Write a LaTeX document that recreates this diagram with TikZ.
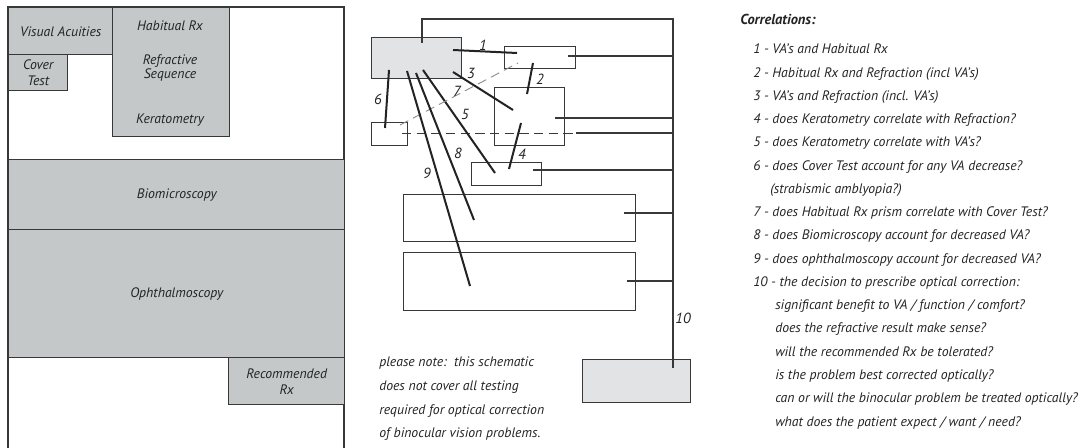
\documentclass[tikz,border=0pt]{standalone}
\usepackage{fontspec}
\setmainfont{PT Sans}
\usepackage{tikz}
\usetikzlibrary{calc}
\definecolor{Ink}{HTML}{232323}
\definecolor{Edge}{HTML}{383838}
\definecolor{Shade}{HTML}{C5C8C9}
\definecolor{ShadeSoft}{HTML}{E2E3E4}
\definecolor{Dash}{HTML}{8C8C8C}
\tikzset{
  txt/.style={font=\itshape\fontsize{10.3}{12}\selectfont,text=Ink,inner sep=0pt},
  sz/.style 2 args={minimum width=#1*0.75pt,minimum height=#2*0.75pt},
  plan/.style={draw=Edge,line width=1.1pt,fill=Shade,anchor=north west,inner sep=0pt,align=center,txt},
  cbox/.style={draw=Edge,line width=1.1pt,fill=white,anchor=north west,inner sep=0pt},
  cboxgray/.style={cbox,fill=ShadeSoft},
  corr/.style={line width=1.5pt,draw=Ink},
  corrdash/.style={line width=0.7pt,draw=Dash,dash pattern=on 7pt off 4pt},
  feed/.style={line width=1.1pt,draw=Edge},
  num/.style={txt,font=\itshape\fontsize{11}{13}\selectfont},
  listtxt/.style={txt,anchor=base west}
}
\begin{document}
\begin{tikzpicture}[x=0.75pt,y=-0.75pt]
\useasboundingbox (0,0) rectangle (1087,448);
% record sheet layout
\draw[feed] (8,448) -- (8,7) -- (344,7) -- (344,448);
\node[plan,sz={104}{47}] (lva) at (8,7) {Visual Acuities};
\node[plan,sz={117}{129}] (lhrx) at (112,7) {};
\node[plan,sz={59}{36}] (lct) at (8,54) {Cover\\Test};
\node[plan,sz={336}{70}] (lbio) at (8,159) {Biomicroscopy};
\node[plan,sz={336}{128}] (loph) at (8,229) {Ophthalmoscopy};
\node[plan,sz={116}{47}] (lrec) at (228,357) {Recommended\\Rx};
\node[txt] (lhab) at (170,26) {Habitual Rx};
\node[txt,align=center,font=\itshape\fontsize{10.3}{10.5}\selectfont] (lref) at (170,68) {Refractive\\Sequence};
\node[txt] (lker) at (170,120) {Keratometry};
% schematic boxes
\node[cboxgray,sz={90}{41}] (va) at (371,37) {};
\node[cbox,sz={71}{22}] (hrx) at (504,46) {};
\node[cbox,sz={70}{58}] (refr) at (494,87) {};
\node[cbox,sz={36}{23}] (ct) at (371,122) {};
\node[cbox,sz={70}{23}] (kera) at (471,162) {};
\node[cbox,sz={232}{47}] (bio) at (403,194) {};
\node[cbox,sz={232}{58}] (oph) at (403,252) {};
\node[cboxgray,sz={108}{43}] (rec) at (582,359) {};
% everything feeds the decision
\draw[feed] ([shift={(51,6)}]va.north west) -- ++(0,-24) -| ([shift={(91,9)}]rec.north west) coordinate (spine);
\foreach \bx/\sx/\sy in {hrx/64/10,refr/61/31,kera/62/8,bio/221/19,oph/224/29}
  \draw[feed] ([shift={(\sx,\sy)}]\bx.north west) coordinate (f\bx) -- (f\bx -| spine);
\draw[corrdash,draw=Edge] ([shift={(31,11)}]ct.north west) coordinate (fct) -- ($(fct -| refr.east)+(11,0)$) coordinate (fctb);
\draw[feed] (fctb) -- (fctb -| spine);
% correlations
\draw[corr] ([shift={(82,13)}]va.north west) -- ([shift={(13,7)}]hrx.north west);
\draw[corr] ([shift={(29,17)}]hrx.north west) -- ([shift={(33,7)}]refr.north west);
\draw[corr] ([shift={(82,35)}]va.north west) -- ([shift={(19,23)}]refr.north west);
\draw[corr] ([shift={(27,36)}]refr.north west) -- ([shift={(38,7)}]kera.north west);
\draw[corr] ([shift={(52,33)}]va.north west) -- ([shift={(24,11)}]kera.north west);
\draw[corr] ([shift={(18,33)}]va.north west) -- ([shift={(14,6)}]ct.north west);
\draw[corrdash] ([shift={(29,3)}]ct.north west) -- ([shift={(14,17)}]hrx.north west);
\draw[corr] ([shift={(45,36)}]va.north west) -- ([shift={(71,26)}]bio.north west);
\draw[corr] ([shift={(36,34)}]va.north west) -- ([shift={(67,34)}]oph.north west);
\node[num] (n1) at (483,45) {1};
\node[num] (n2) at (540,79) {2};
\node[num] (n3) at (471,73) {3};
\node[num] (n4) at (522,154) {4};
\node[num] (n5) at (465,114) {5};
\node[num] (n6) at (378,99) {6};
\node[num] (n7) at (457,91) {7};
\node[num] (n8) at (458,153) {8};
\node[num] (n9) at (427,173) {9};
\node[num] (n10) at (683,318) {10};
\foreach \t [count=\i from 0] in {please note:\ \ this schematic,does not cover all testing,required for optical correction,of binocular vision problems.}
  \node[listtxt] (note\i) at (379,367+23.6*\i) {\t};
% list of correlations
\node[listtxt,font=\bfseries\itshape\fontsize{10.8}{12}\selectfont] (head) at (740,25) {Correlations:};
\foreach \t [count=\i from 0] in {
  {1 - VA's and Habitual Rx},
  {2 - Habitual Rx and Refraction (incl VA's)},
  {3 - VA's and Refraction (incl. VA's)},
  {4 - does Keratometry correlate with Refraction?},
  {5 - does Keratometry correlate with VA's?},
  {6 - does Cover Test account for any VA decrease?},
  {\hspace*{12.75pt}(strabismic amblyopia?)},
  {7 - does Habitual Rx prism correlate with Cover Test?},
  {8 - does Biomicroscopy account for decreased VA?},
  {9 - does ophthalmoscopy account for decreased VA?},
  {10 - the decision to prescribe optical correction:},
  {\hspace*{16.5pt}significant benefit to VA / function / comfort?},
  {\hspace*{16.5pt}does the refractive result make sense?},
  {\hspace*{16.5pt}will the recommended Rx be tolerated?},
  {\hspace*{16.5pt}is the problem best corrected optically?},
  {\hspace*{16.5pt}can or will the binocular problem be treated optically?},
  {\hspace*{16.5pt}what does the patient expect / want / need?}}
  \node[listtxt] (c\i) at (753,54+23.25*\i) {\t};
\end{tikzpicture}
\end{document}
